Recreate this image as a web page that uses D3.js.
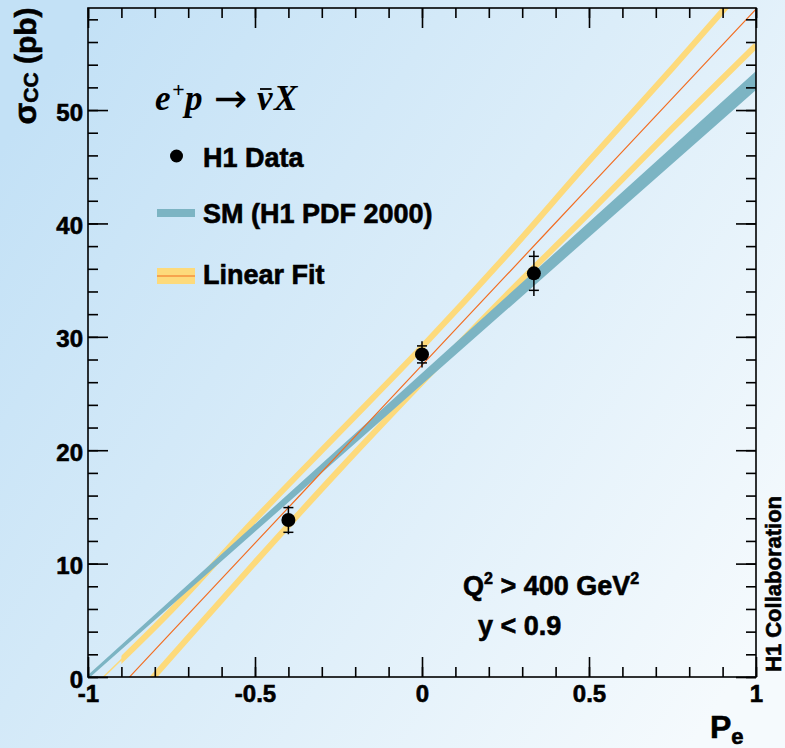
<!DOCTYPE html>
<html>
<head>
<meta charset="utf-8">
<script src="https://cdn.jsdelivr.net/npm/d3@7"></script>
<style>
  html, body { margin: 0; padding: 0; background: #ffffff; }
  svg { display: block; }
  .lbl { font-family: "Liberation Sans", Arial, Helvetica, sans-serif; font-weight: bold; fill: #000;
         stroke: #000; stroke-width: 0.6px; }
</style>
</head>
<body>
<svg id="chart" width="785" height="748"></svg>
<script>
// H1 charged-current e+p cross sections versus lepton beam polarisation
const dataPol     = [-0.40, 0.00, 0.335];
const dataXsec    = [13.85, 28.45, 35.6];
const dataErrStat = [1.09, 0.75, 1.5];
const dataErrTot  = [1.26, 1.15, 2.0];

// Standard Model expectation (H1 PDF 2000), linear in P_e
const smPol  = [-1, 1];
const smLow  = [0, 51.95];
const smHigh = [0, 53.25];

// Linear fit to the data: central line and edges of its error band
const fitPol     = [-1, -0.75, -0.5, -0.25, 0, 0.25, 0.5, 0.75, 1];
const fitCentral = [-3.9, 3.95, 11.8, 19.65, 27.5, 35.35, 43.2, 51.05, 58.9];
const fitUpper   = [-1.3, 5.9, 13.9, 21.5, 29.1, 37.1, 45.5, 53.7, 62.1];
const fitLower   = [-6.5, 1.8, 10.1, 18.2, 26.0, 33.6, 40.9, 48.4, 55.7];
const fitBandFrom = -0.9;   // the thick band edges are drawn from here on

// Axis ticks and labels
const xTicks      = [-1, -0.5, 0, 0.5, 1];
const xTickLabels = ["-1", "-0.5", "0", "0.5", "1"];
const yTicks      = [0, 10, 20, 30, 40, 50];
const yTickLabels = ["0", "10", "20", "30", "40", "50"];

const W = 785, H = 748;
const L = 88, R = 756, T = 8, B = 677;

const COL_SM = "#7cb4c3";
const COL_BAND = "#fdda7b";
const COL_FIT = "#f26d21";

const svg = d3.select("#chart");
const defs = svg.append("defs");

// background wash
const grad = defs.append("linearGradient").attr("id", "bg")
  .attr("x1", "0").attr("y1", "0.2").attr("x2", "1").attr("y2", "0.8");
grad.append("stop").attr("offset", "0").attr("stop-color", "#c3e1f6");
grad.append("stop").attr("offset", "0.5").attr("stop-color", "#dbedf9");
grad.append("stop").attr("offset", "1").attr("stop-color", "#f5fafd");
svg.append("rect").attr("width", W).attr("height", H).attr("fill", "url(#bg)");

const x = d3.scaleLinear().domain([-1, 1]).range([L, R]);
const y = d3.scaleLinear().domain([0, 59]).range([B, T]);

defs.append("clipPath").attr("id", "plotClip").append("rect")
  .attr("x", L).attr("y", T).attr("width", R - L).attr("height", B - T);
defs.append("clipPath").attr("id", "bandClip").append("rect")
  .attr("x", x(fitBandFrom)).attr("y", 0).attr("width", R - x(fitBandFrom)).attr("height", H);

const plot = svg.append("g").attr("clip-path", "url(#plotClip)");

const fitLine = d3.line()
  .x((d, i) => x(fitPol[i]))
  .y(d => y(d))
  .curve(d3.curveMonotoneX);

// thin continuation of the fit band edges
[fitUpper, fitLower].forEach(arr => {
  plot.append("path").attr("d", fitLine(arr))
    .attr("fill", "none").attr("stroke", COL_BAND).attr("stroke-width", 1.5);
});
// thick fit band edges
const bandG = plot.append("g").attr("clip-path", "url(#bandClip)");
[fitUpper, fitLower].forEach(arr => {
  bandG.append("path").attr("d", fitLine(arr))
    .attr("fill", "none").attr("stroke", COL_BAND).attr("stroke-width", 6);
});

// Standard Model band
const smArea = d3.area()
  .x((d, i) => x(smPol[i]))
  .y0((d, i) => y(smLow[i]))
  .y1((d, i) => y(smHigh[i]));
plot.append("path").attr("d", smArea(smPol))
  .attr("fill", COL_SM).attr("stroke", COL_SM).attr("stroke-width", 3)
  .attr("stroke-linejoin", "round");

// fit central line
plot.append("path").attr("d", fitLine(fitCentral))
  .attr("fill", "none").attr("stroke", COL_FIT).attr("stroke-width", 1.2);

// axes: ticks pointing into the frame on all four sides
function styleAxis(g) {
  g.select(".domain").remove();
  g.selectAll(".tick line").attr("stroke", "#000").attr("stroke-width", 1.6);
  g.selectAll("text").attr("class", "lbl").attr("font-size", 24).attr("fill", "#000");
}
const xMinor = d3.range(-10, 11).map(v => v / 10);
const yMinor = d3.range(0, 59, 2);

svg.append("g").attr("transform", `translate(0,${B})`)
  .call(d3.axisBottom(x).tickValues(xMinor).tickSizeInner(-10).tickSizeOuter(0).tickFormat(""))
  .call(styleAxis);
svg.append("g").attr("transform", `translate(0,${B})`)
  .call(d3.axisBottom(x).tickValues(xTicks).tickSizeInner(-20).tickSizeOuter(0)
    .tickPadding(8).tickFormat((d, i) => xTickLabels[i]))
  .call(styleAxis);
svg.append("g").attr("transform", `translate(0,${T})`)
  .call(d3.axisTop(x).tickValues(xMinor).tickSizeInner(-10).tickSizeOuter(0).tickFormat(""))
  .call(styleAxis);
svg.append("g").attr("transform", `translate(0,${T})`)
  .call(d3.axisTop(x).tickValues(xTicks).tickSizeInner(-20).tickSizeOuter(0).tickFormat(""))
  .call(styleAxis);

svg.append("g").attr("transform", `translate(${L},0)`)
  .call(d3.axisLeft(y).tickValues(yMinor).tickSizeInner(-10).tickSizeOuter(0).tickFormat(""))
  .call(styleAxis);
const yAx = svg.append("g").attr("transform", `translate(${L},0)`)
  .call(d3.axisLeft(y).tickValues(yTicks).tickSizeInner(-20).tickSizeOuter(0)
    .tickPadding(5).tickFormat((d, i) => yTickLabels[i]))
  .call(styleAxis);
yAx.selectAll("text").attr("dy", "0.42em");
svg.append("g").attr("transform", `translate(${R},0)`)
  .call(d3.axisRight(y).tickValues(yMinor).tickSizeInner(-10).tickSizeOuter(0).tickFormat(""))
  .call(styleAxis);
svg.append("g").attr("transform", `translate(${R},0)`)
  .call(d3.axisRight(y).tickValues(yTicks).tickSizeInner(-20).tickSizeOuter(0).tickFormat(""))
  .call(styleAxis);

// frame
svg.append("rect").attr("x", L).attr("y", T).attr("width", R - L).attr("height", B - T)
  .attr("fill", "none").attr("stroke", "#000").attr("stroke-width", 1.6);

// data points with error bars (ticks mark the statistical error)
const pts = svg.append("g");
dataPol.forEach((p, i) => {
  const cx = x(p);
  pts.append("line").attr("x1", cx).attr("x2", cx)
    .attr("y1", y(dataXsec[i] - dataErrTot[i])).attr("y2", y(dataXsec[i] + dataErrTot[i]))
    .attr("stroke", "#000").attr("stroke-width", 1.5);
  [dataXsec[i] - dataErrStat[i], dataXsec[i] + dataErrStat[i]].forEach(v => {
    pts.append("line").attr("x1", cx - 5).attr("x2", cx + 5)
      .attr("y1", y(v)).attr("y2", y(v))
      .attr("stroke", "#000").attr("stroke-width", 1.5);
  });
  pts.append("circle").attr("cx", cx).attr("cy", y(dataXsec[i])).attr("r", 7).attr("fill", "#000");
});

// axis titles
const yTitle = svg.append("text").attr("class", "lbl")
  .attr("transform", "translate(36,66) rotate(-90)")
  .attr("text-anchor", "middle").attr("font-size", 30);
yTitle.append("tspan").attr("font-size", 32).text("σ");
yTitle.append("tspan").attr("font-size", 21).attr("dy", 2).text("CC");
yTitle.append("tspan").attr("dy", -2).text(" (pb)");

const xTitle = svg.append("text").attr("class", "lbl")
  .attr("x", 710).attr("y", 738).attr("font-size", 32);
xTitle.append("tspan").text("P");
xTitle.append("tspan").attr("font-size", 22).attr("dy", 6).text("e");

svg.append("text").attr("class", "lbl")
  .attr("transform", "translate(781,672) rotate(-90)")
  .attr("font-size", 22).text("H1 Collaboration");

// reaction
const serif = "'Liberation Serif', 'Times New Roman', serif";
const react = svg.append("text")
  .attr("x", 155).attr("y", 110)
  .attr("font-family", serif)
  .attr("font-weight", "bold").attr("font-style", "italic")
  .attr("font-size", 35).attr("fill", "#000");
react.append("tspan").text("e");
react.append("tspan").attr("x", 172).attr("font-size", 22).attr("dy", -13).text("+");
react.append("tspan").attr("x", 185).attr("dy", 13).text("p");
react.append("tspan").attr("x", 257).text("ν");
react.append("tspan").attr("x", 274).text("X");
svg.append("text")
  .attr("x", 214).attr("y", 112)
  .attr("font-family", "'DejaVu Sans', sans-serif").attr("font-size", 40)
  .attr("fill", "#000").text("→");
const full = react.node().textContent;
const nuExt = react.node().getExtentOfChar(full.indexOf("ν"));
svg.append("line")
  .attr("x1", nuExt.x + 3).attr("x2", nuExt.x + nuExt.width - 1)
  .attr("y1", 89).attr("y2", 89)
  .attr("stroke", "#000").attr("stroke-width", 1.8);

// legend
const leg = svg.append("g");
leg.append("circle").attr("cx", 176.5).attr("cy", 156).attr("r", 6.5).attr("fill", "#000");
leg.append("text").attr("class", "lbl").attr("x", 203).attr("y", 167).attr("font-size", 27).text("H1 Data");
leg.append("rect").attr("x", 157).attr("y", 209).attr("width", 38).attr("height", 8).attr("fill", COL_SM);
leg.append("text").attr("class", "lbl").attr("x", 203).attr("y", 223).attr("font-size", 27).text("SM (H1 PDF 2000)");
leg.append("rect").attr("x", 157).attr("y", 268).attr("width", 38).attr("height", 16).attr("fill", COL_BAND);
leg.append("line").attr("x1", 157).attr("x2", 195).attr("y1", 276).attr("y2", 276)
  .attr("stroke", COL_FIT).attr("stroke-width", 1.2);
leg.append("text").attr("class", "lbl").attr("x", 203).attr("y", 284).attr("font-size", 27).text("Linear Fit");

// kinematic range
const q2 = svg.append("text").attr("class", "lbl").attr("x", 463).attr("y", 595).attr("font-size", 27);
q2.append("tspan").text("Q");
q2.append("tspan").attr("font-size", 16).attr("dy", -11).text("2");
q2.append("tspan").attr("dy", 11).text(" > 400 GeV");
q2.append("tspan").attr("font-size", 16).attr("dy", -11).text("2");
svg.append("text").attr("class", "lbl").attr("x", 478).attr("y", 635).attr("font-size", 27).text("y < 0.9");
</script>
</body>
</html>
